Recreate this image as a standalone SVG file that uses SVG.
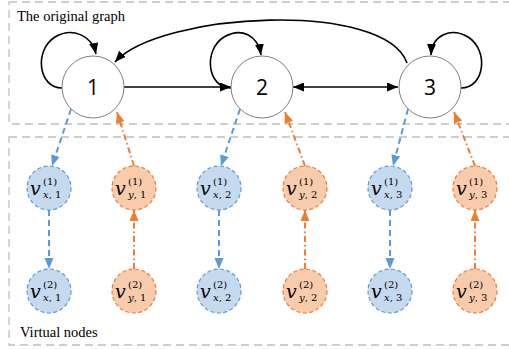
<svg xmlns="http://www.w3.org/2000/svg" width="509" height="349" viewBox="0 0 509 349">
<style>
.box{fill:none;stroke:#bfbfbf;stroke-width:1.3;stroke-dasharray:8 5}
.node{fill:#fff;stroke:#7f7f7f;stroke-width:1}
.num{font-family:"Open Sans","Liberation Sans",sans-serif;font-size:21px;fill:#000;text-anchor:middle}
.lbl{font-family:"Liberation Serif","Times New Roman",serif;font-size:14.5px;fill:#000}
.e{fill:none;stroke:#000;stroke-width:1.6}
.b{fill:none;stroke:#5b9bd5;stroke-width:2;stroke-dasharray:6 4}
.o{fill:none;stroke:#ed7d31;stroke-width:2;stroke-dasharray:6 3 1.5 3}
.vb{fill:#c5d9ef;stroke:#5b9bd5;stroke-width:1.2;stroke-dasharray:4 2.5}
.vo{fill:#f8cbad;stroke:#ed7d31;stroke-width:1.2;stroke-dasharray:4 2.5}
.m{font-family:"DejaVu Serif","Liberation Serif",serif;fill:#000}
.v{font-style:italic;font-size:19px}
.s{font-size:10px}
.si{font-style:italic;font-size:10px}
</style>
<defs>
<marker id="ak" markerUnits="userSpaceOnUse" markerWidth="12" markerHeight="10" refX="11" refY="4.5" orient="auto"><path d="M0,0 L11,4.5 L0,9 z" fill="#000"/></marker>
<marker id="aks" markerUnits="userSpaceOnUse" markerWidth="12" markerHeight="10" refX="0" refY="4.5" orient="auto"><path d="M11,0 L0,4.5 L11,9 z" fill="#000"/></marker>
<marker id="ab" markerUnits="userSpaceOnUse" markerWidth="12" markerHeight="10" refX="11" refY="4.5" orient="auto"><path d="M0,0 L11,4.5 L0,9 z" fill="#5b9bd5"/></marker>
<marker id="ao" markerUnits="userSpaceOnUse" markerWidth="12" markerHeight="10" refX="11" refY="4.5" orient="auto"><path d="M0,0 L11,4.5 L0,9 z" fill="#ed7d31"/></marker>
</defs>
<rect class="box" x="9" y="2" width="510" height="122"/>
<rect class="box" x="9" y="137" width="510" height="208"/>
<text class="lbl" x="17" y="21">The original graph</text>
<text class="lbl" x="20" y="337">Virtual nodes</text>
<g id="connectors">
<path class="e" d="M62,88 C38,88 34,50 55,37 C72,27 92,35 96,54" marker-end="url(#ak)"/>
<path class="e" d="M231,88 C207,88 203,50 224,37 C241,27 258,35 261,55" marker-end="url(#ak)"/>
<path class="e" d="M461,88 C485,88 489,50 468,37 C451,27 432,35 431,55" marker-end="url(#ak)"/>
<path class="e" d="M407,63 C385,0 160,12 115,62" marker-end="url(#ak)"/>
<path class="e" d="M124,87 L231,87" marker-end="url(#ak)"/>
<path class="e" d="M293,87 L398,87" marker-start="url(#aks)" marker-end="url(#ak)"/>
<path class="b" d="M71,109 L52,166" marker-end="url(#ab)"/>
<path class="b" d="M240,109 L221,166" marker-end="url(#ab)"/>
<path class="b" d="M408,109 L393,166" marker-end="url(#ab)"/>
<path class="o" d="M134,166 L117,112" marker-end="url(#ao)"/>
<path class="o" d="M305,166 L285,112" marker-end="url(#ao)"/>
<path class="o" d="M475,166 L454,112" marker-end="url(#ao)"/>
<path class="b" d="M49,210 L49,269" marker-end="url(#ab)"/>
<path class="b" d="M219,210 L219,269" marker-end="url(#ab)"/>
<path class="b" d="M390,210 L390,269" marker-end="url(#ab)"/>
<path class="o" d="M134,269 L134,210" marker-end="url(#ao)"/>
<path class="o" d="M305,269 L305,210" marker-end="url(#ao)"/>
<path class="o" d="M475,269 L475,210" marker-end="url(#ao)"/>
</g>
<g id="n1"><circle class="node" cx="93" cy="87" r="31"/><text class="num" x="93" y="95">1</text></g>
<g id="n2"><circle class="node" cx="262" cy="87" r="31"/><text class="num" x="262" y="95">2</text></g>
<g id="n3"><circle class="node" cx="430" cy="87" r="31"/><text class="num" x="430" y="95">3</text></g>
<g id="vx11"><circle class="vb" cx="49" cy="188" r="22"/><text class="m"><tspan class="v" x="30" y="195">v</tspan><tspan class="s" x="43" y="185">(1)</tspan><tspan class="si" x="43" y="198">x</tspan><tspan class="s">, 1</tspan></text></g>
<g id="vy11"><circle class="vo" cx="134" cy="188" r="22"/><text class="m"><tspan class="v" x="115" y="195">v</tspan><tspan class="s" x="128" y="185">(1)</tspan><tspan class="si" x="128" y="198">y</tspan><tspan class="s">, 1</tspan></text></g>
<g id="vx12"><circle class="vb" cx="219" cy="188" r="22"/><text class="m"><tspan class="v" x="200" y="195">v</tspan><tspan class="s" x="213" y="185">(1)</tspan><tspan class="si" x="213" y="198">x</tspan><tspan class="s">, 2</tspan></text></g>
<g id="vy12"><circle class="vo" cx="305" cy="188" r="22"/><text class="m"><tspan class="v" x="286" y="195">v</tspan><tspan class="s" x="299" y="185">(1)</tspan><tspan class="si" x="299" y="198">y</tspan><tspan class="s">, 2</tspan></text></g>
<g id="vx13"><circle class="vb" cx="390" cy="188" r="22"/><text class="m"><tspan class="v" x="371" y="195">v</tspan><tspan class="s" x="384" y="185">(1)</tspan><tspan class="si" x="384" y="198">x</tspan><tspan class="s">, 3</tspan></text></g>
<g id="vy13"><circle class="vo" cx="475" cy="188" r="22"/><text class="m"><tspan class="v" x="456" y="195">v</tspan><tspan class="s" x="469" y="185">(1)</tspan><tspan class="si" x="469" y="198">y</tspan><tspan class="s">, 3</tspan></text></g>
<g id="vx21"><circle class="vb" cx="49" cy="291" r="22"/><text class="m"><tspan class="v" x="30" y="298">v</tspan><tspan class="s" x="43" y="288">(2)</tspan><tspan class="si" x="43" y="301">x</tspan><tspan class="s">, 1</tspan></text></g>
<g id="vy21"><circle class="vo" cx="134" cy="291" r="22"/><text class="m"><tspan class="v" x="115" y="298">v</tspan><tspan class="s" x="128" y="288">(2)</tspan><tspan class="si" x="128" y="301">y</tspan><tspan class="s">, 1</tspan></text></g>
<g id="vx22"><circle class="vb" cx="219" cy="291" r="22"/><text class="m"><tspan class="v" x="200" y="298">v</tspan><tspan class="s" x="213" y="288">(2)</tspan><tspan class="si" x="213" y="301">x</tspan><tspan class="s">, 2</tspan></text></g>
<g id="vy22"><circle class="vo" cx="305" cy="291" r="22"/><text class="m"><tspan class="v" x="286" y="298">v</tspan><tspan class="s" x="299" y="288">(2)</tspan><tspan class="si" x="299" y="301">y</tspan><tspan class="s">, 2</tspan></text></g>
<g id="vx23"><circle class="vb" cx="390" cy="291" r="22"/><text class="m"><tspan class="v" x="371" y="298">v</tspan><tspan class="s" x="384" y="288">(2)</tspan><tspan class="si" x="384" y="301">x</tspan><tspan class="s">, 3</tspan></text></g>
<g id="vy23"><circle class="vo" cx="475" cy="291" r="22"/><text class="m"><tspan class="v" x="456" y="298">v</tspan><tspan class="s" x="469" y="288">(2)</tspan><tspan class="si" x="469" y="301">y</tspan><tspan class="s">, 3</tspan></text></g>
</svg>
